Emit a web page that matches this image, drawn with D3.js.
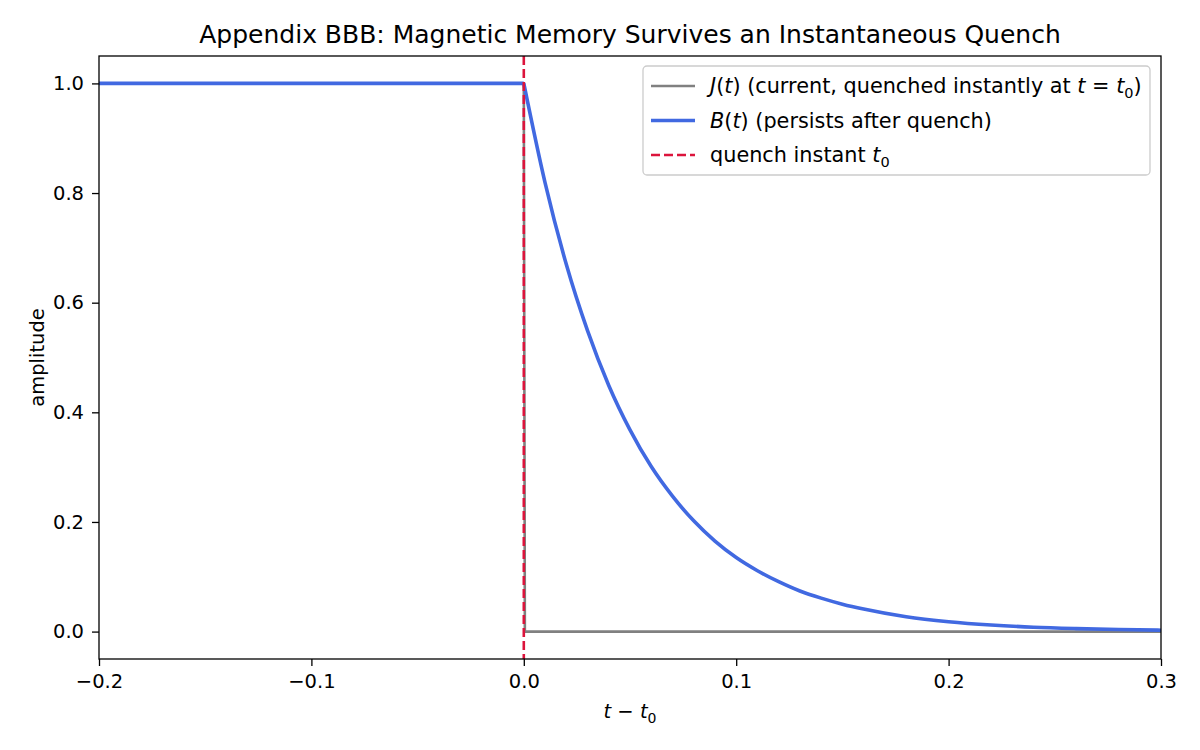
<!DOCTYPE html>
<html>
<head>
<meta charset="utf-8">
<script src="https://cdn.jsdelivr.net/npm/d3@7"></script>
<style>
  body { margin: 0; background: #fff; }
  text { font-family: "DejaVu Sans", sans-serif; fill: #000; }
</style>
</head>
<body>
<div id="stage"></div>
<script>
(function(d3) {
    'use strict';

    // values
    var xTicks = [-0.2, -0.1, 0.0, 0.1, 0.2, 0.3],
        yTicks = [0.0, 0.2, 0.4, 0.6, 0.8, 1.0];

    var currentT = [-0.2, 0.0, 0.0005, 0.3],
        currentJ = [1.0, 1.0, 0.0, 0.0];

    var fieldT = [-0.2, 0.0, 0.01, 0.02, 0.03, 0.04, 0.05, 0.06, 0.07, 0.08, 0.09, 0.10,
                  0.11, 0.12, 0.13, 0.14, 0.15, 0.16, 0.18, 0.20, 0.22, 0.24, 0.26, 0.28, 0.30],
        fieldB = [1.0, 1.0, 0.819, 0.670, 0.549, 0.449, 0.368, 0.301, 0.247, 0.202, 0.165, 0.135,
                  0.111, 0.091, 0.074, 0.061, 0.050, 0.041, 0.027, 0.018, 0.012, 0.008, 0.0055, 0.0037, 0.0025];

    var quenchT = 0.0;

    var width = 1200, height = 750,
        margin = {top: 56, right: 39, bottom: 91, left: 99},
        w = width - margin.left - margin.right,
        h = height - margin.top - margin.bottom,
        fs = '19.5px', subFs = '14px',
        legFs = '20.8px', legSubFs = '14.5px';

    var svg = d3.select('#stage').append('svg')
        .attr('width', width)
        .attr('height', height);

    var x = d3.scaleLinear().domain([-0.2, 0.3]).range([0, w]),
        y = d3.scaleLinear().domain([-0.05, 1.05]).range([h, 0]);

    var g = svg.append('g')
        .attr('transform', 'translate(' + margin.left + ',' + margin.top + ')');

    g.append('defs').append('clipPath').attr('id', 'clip')
        .append('rect').attr('width', w).attr('height', h);

    var plot = g.append('g').attr('clip-path', 'url(#clip)');

    var line = d3.line()
        .x(function(d) { return x(d[0]); })
        .y(function(d) { return y(d[1]); });

    plot.append('path')
        .datum(d3.zip(currentT, currentJ))
        .attr('d', line)
        .style('fill', 'none')
        .style('stroke', '#808080')
        .style('stroke-width', 2.6);

    // B(t): flat before the quench, smooth decay after it
    var field = d3.zip(fieldT, fieldB);
    var before = field.filter(function(d) { return d[0] <= quenchT; }),
        after = field.filter(function(d) { return d[0] >= quenchT; });

    plot.append('path')
        .datum(before)
        .attr('d', line)
        .style('fill', 'none')
        .style('stroke', '#4169e1')
        .style('stroke-width', 3.6);

    plot.append('path')
        .datum(after)
        .attr('d', d3.line()
            .x(function(d) { return x(d[0]); })
            .y(function(d) { return y(d[1]); })
            .curve(d3.curveMonotoneX))
        .style('fill', 'none')
        .style('stroke', '#4169e1')
        .style('stroke-width', 3.6);

    plot.append('line')
        .attr('x1', x(quenchT)).attr('x2', x(quenchT))
        .attr('y1', 0).attr('y2', h)
        .style('stroke', '#dc143c')
        .style('stroke-width', 2.6)
        .style('stroke-dasharray', '9,4');

    var xAxis = g.append('g')
        .attr('transform', 'translate(0,' + h + ')')
        .call(d3.axisBottom(x).tickValues(xTicks).tickSize(7).tickPadding(8)
            .tickFormat(function(d) { return d3.format('.1f')(d).replace('-', '\u2212'); }));

    var yAxis = g.append('g')
        .call(d3.axisLeft(y).tickValues(yTicks).tickSize(7).tickPadding(8)
            .tickFormat(d3.format('.1f')));

    [xAxis, yAxis].forEach(function(a) {
        a.select('.domain').remove();
        a.selectAll('line').style('stroke', '#000').style('stroke-width', 1.3);
        a.selectAll('text').style('font-size', fs).style('font-family', '"DejaVu Sans", sans-serif');
    });

    g.append('rect')
        .attr('width', w).attr('height', h)
        .style('fill', 'none')
        .style('stroke', '#000')
        .style('stroke-width', 1.3);

    svg.append('text')
        .attr('x', margin.left + w / 2).attr('y', 43)
        .attr('text-anchor', 'middle')
        .style('font-size', '25px')
        .text('Appendix BBB: Magnetic Memory Survives an Instantaneous Quench');

    var xl = svg.append('text')
        .attr('x', margin.left + w / 2).attr('y', 718)
        .attr('text-anchor', 'middle')
        .style('font-size', fs);
    xl.append('tspan').style('font-style', 'italic').text('t');
    xl.append('tspan').text(' \u2212 ');
    xl.append('tspan').style('font-style', 'italic').text('t');
    xl.append('tspan').attr('dy', 5).style('font-size', subFs).text('0');

    svg.append('text')
        .attr('transform', 'translate(44,' + (margin.top + h / 2) + ') rotate(-90)')
        .attr('text-anchor', 'middle')
        .style('font-size', fs)
        .text('amplitude');

    // legend
    var legend = svg.append('g').attr('transform', 'translate(643,66)');
    legend.append('rect')
        .attr('width', 507).attr('height', 109)
        .attr('rx', 4)
        .style('fill', '#fff').style('fill-opacity', 0.8)
        .style('stroke', '#cccccc').style('stroke-width', 1.3);

    var items = [
        {color: '#808080', sw: 2.6, dash: null},
        {color: '#4169e1', sw: 3.6, dash: null},
        {color: '#dc143c', sw: 2.6, dash: '9,4'}
    ];
    items.forEach(function(it, i) {
        var yy = 20 + i * 34.5;
        legend.append('line')
            .attr('x1', 8).attr('x2', 52).attr('y1', yy).attr('y2', yy)
            .style('stroke', it.color).style('stroke-width', it.sw)
            .style('stroke-dasharray', it.dash);
    });

    function label(i) {
        return legend.append('text')
            .attr('x', 67).attr('y', 20 + i * 34.5 + 7)
            .style('font-size', legFs);
    }
    var l0 = label(0);
    l0.append('tspan').style('font-style', 'italic').text('J');
    l0.append('tspan').text('(');
    l0.append('tspan').style('font-style', 'italic').text('t');
    l0.append('tspan').text(') (current, quenched instantly at ');
    l0.append('tspan').style('font-style', 'italic').text('t');
    l0.append('tspan').text(' = ');
    l0.append('tspan').style('font-style', 'italic').text('t');
    l0.append('tspan').attr('dy', 5).style('font-size', legSubFs).text('0');
    l0.append('tspan').attr('dy', -5).text(')');

    var l1 = label(1);
    l1.append('tspan').style('font-style', 'italic').text('B');
    l1.append('tspan').text('(');
    l1.append('tspan').style('font-style', 'italic').text('t');
    l1.append('tspan').text(') (persists after quench)');

    var l2 = label(2);
    l2.append('tspan').text('quench instant ');
    l2.append('tspan').style('font-style', 'italic').text('t');
    l2.append('tspan').attr('dy', 5).style('font-size', legSubFs).text('0');

})(window.d3);
</script>
</body>
</html>
